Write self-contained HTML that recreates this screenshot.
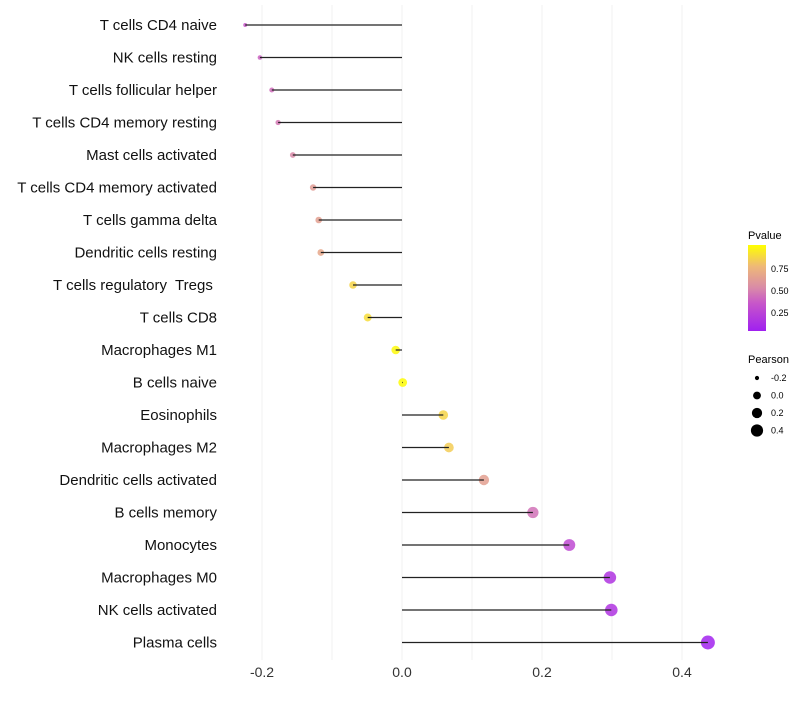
<!DOCTYPE html>
<html><head><meta charset="utf-8"><style>
body{margin:0;background:#fff;font-family:"Liberation Sans",sans-serif}
text{white-space:pre}
</style></head><body>
<svg id="chart" width="800" height="700" xmlns="http://www.w3.org/2000/svg">
<defs><linearGradient id="pg" x1="0" y1="1" x2="0" y2="0">
<stop offset="0" stop-color="#a020f0"/><stop offset="0.33" stop-color="#c858c8"/><stop offset="0.5" stop-color="#d98aa8"/><stop offset="0.75" stop-color="#eeb878"/><stop offset="1" stop-color="#ffff00"/></linearGradient></defs>
<g id="grid"></g><g id="dots"></g><g id="marks"></g><g id="labels"></g>
<g>
<text x="748" y="239" font-size="11">Pvalue</text>
<rect x="748" y="245" width="18" height="86" fill="url(#pg)"/>
<text x="771" y="272" font-size="9">0.75</text><text x="771" y="294" font-size="9">0.50</text><text x="771" y="316" font-size="9">0.25</text>
</g>
<g id="sizeleg"><text x="748" y="363" font-size="11">Pearson</text></g>
</svg>
<script>
const categories=["T cells CD4 naive","NK cells resting","T cells follicular helper","T cells CD4 memory resting","Mast cells activated","T cells CD4 memory activated","T cells gamma delta","Dendritic cells resting","T cells regulatory  Tregs ","T cells CD8","Macrophages M1","B cells naive","Eosinophils","Macrophages M2","Dendritic cells activated","B cells memory","Monocytes","Macrophages M0","NK cells activated","Plasma cells"];
const pearson=[-0.224,-0.203,-0.186,-0.177,-0.156,-0.127,-0.119,-0.116,-0.070,-0.049,-0.009,0.001,0.059,0.067,0.117,0.187,0.239,0.297,0.299,0.437];
const pvalue=[0.32,0.36,0.40,0.44,0.50,0.60,0.62,0.66,0.85,0.88,0.98,0.99,0.85,0.82,0.62,0.42,0.25,0.12,0.12,0.02];
const xTicks=[-0.2,0.0,0.2,0.4];
const xTickLabels=["-0.2","0.0","0.2","0.4"];
const sizeLegend=[-0.2,0.0,0.2,0.4];
const NS="http://www.w3.org/2000/svg";
const x=v=>402+v*700, y=i=>25+i*32.5;
const r=v=>Math.sqrt(Math.max(2,19+68*v));
const stops=[[0,[160,32,240]],[0.33,[200,88,200]],[0.5,[217,138,168]],[0.75,[238,184,120]],[1,[255,255,0]]];
function col(p){for(let k=1;k<stops.length;k++){if(p<=stops[k][0]){const a=stops[k-1],b=stops[k],t=(p-a[0])/(b[0]-a[0]);return 'rgb('+a[1].map((c,j)=>Math.round(c+(b[1][j]-c)*t)).join(',')+')';}}return 'rgb(255,255,0)';}
function mk(t,at,parent){const e=document.createElementNS(NS,t);for(const k in at)e.setAttribute(k,at[k]);parent.appendChild(e);return e;}
const grid=document.getElementById('grid'),marks=document.getElementById('marks'),dots=document.getElementById('dots'),labels=document.getElementById('labels');
for(let v=-0.2;v<=0.41;v+=0.1){const g=mk('line',{x1:x(v),x2:x(v),y1:5,y2:660,stroke:'#f0f0f0','stroke-width':1},grid);

}
xTicks.forEach((v,i)=>{const t=mk('text',{x:x(v),y:677,'font-size':14,'text-anchor':'middle',fill:'#333'},labels);t.textContent=xTickLabels[i];

});
categories.forEach((c,i)=>{
const t=mk('text',{x:217,y:y(i)+5,'font-size':15,'text-anchor':'end',fill:'#111'},labels);t.textContent=c;


const d=mk('circle',{cx:x(pearson[i]),cy:y(i),r:r(pearson[i]),fill:col(pvalue[i]),'fill-opacity':0.85},dots);


const l=mk('line',{x1:x(0),x2:x(pearson[i]),y1:y(i),y2:y(i),stroke:'#222','stroke-width':1.2},marks);


});
const sl=document.getElementById('sizeleg');
sizeLegend.forEach((v,i)=>{const cy=378+i*17.5;
const c=mk('circle',{cx:757,cy:cy,r:r(v)*0.9,fill:'#000'},sl);


const t=mk('text',{x:771,y:cy+3,'font-size':9},sl);t.textContent=v.toFixed(1);

});
</script>
</body></html>
